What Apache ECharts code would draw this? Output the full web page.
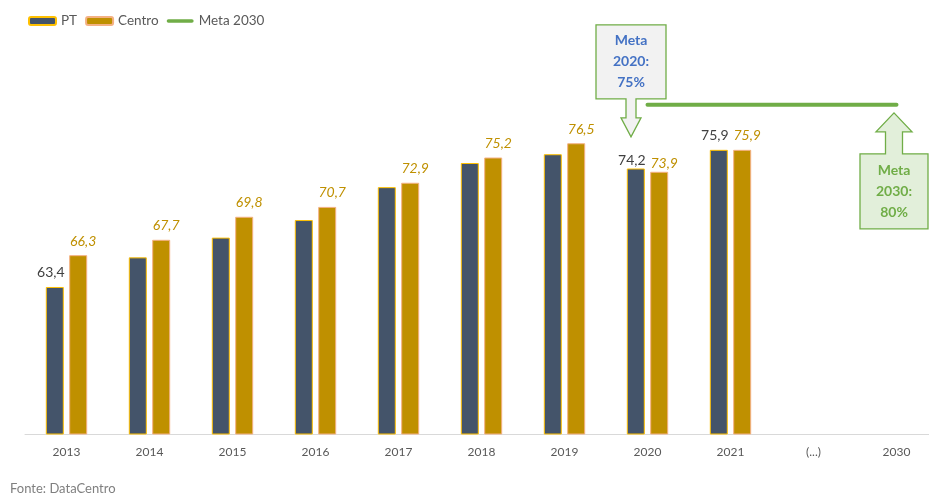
<!DOCTYPE html>
<html>
<head>
<meta charset="utf-8">
<script src="https://cdn.jsdelivr.net/npm/echarts@6/dist/echarts.min.js"></script>
<style>
html, body { margin: 0; padding: 0; background: #fff; }
#myChart { width: 929px; height: 497px; }
</style>
</head>
<body>
<div id="myChart"></div>
<script>
// valores
var years = ['2013', '2014', '2015', '2016', '2017', '2018', '2019', '2020', '2021', '(...)', '2030']
var ptValues = [63.4, 66.1, 67.9, 69.5, 72.5, 74.7, 75.5, 74.2, 75.9, null, null]
var centroValues = [66.3, 67.7, 69.8, 70.7, 72.9, 75.2, 76.5, 73.9, 75.9, null, null]
var meta2030Values = [null, null, null, null, null, null, null, 80, 80, 80, 80]
var ptLabelYears = ['2013', '2020', '2021']
var meta2020Text = 'Meta\n2020:\n75%'
var meta2030Text = 'Meta\n2030:\n80%'
var fonteText = 'Fonte: DataCentro'

var FONT = 'Lato, "Noto Sans", sans-serif'

function fmt (v) {
  return String(v).replace('.', ',')
}

// em 2020 os rótulos ficam colados à barra (por causa da seta)
function barData (values) {
  return values.map(function (v, i) {
    if (years[i] === '2020') {
      return { value: v, label: { distance: 1 } }
    }
    return v
  })
}

var myChart = echarts.init(document.getElementById('myChart'))

var option = {
  animation: false,
  textStyle: { fontFamily: FONT },
  legend: {
    left: 23,
    top: 9,
    itemWidth: 27,
    itemHeight: 8,
    itemGap: 8,
    textStyle: { fontSize: 13.5, color: '#595959', fontFamily: FONT },
    data: [
      'PT',
      'Centro',
      { name: 'Meta 2030', icon: 'path://M2,0 L28,0 A2,2 0 0 1 28,4 L2,4 A2,2 0 0 1 2,0 Z' }
    ]
  },
  grid: {
    left: 25,
    width: 913,
    top: 50,
    bottom: 63,
    outerBoundsMode: 'none'
  },
  xAxis: {
    type: 'category',
    data: years,
    axisTick: { show: false },
    axisLine: { lineStyle: { color: '#d9d9d9', width: 1 } },
    axisLabel: { color: '#595959', fontSize: 12, margin: 12, fontFamily: FONT }
  },
  yAxis: {
    type: 'value',
    min: 50,
    max: 85,
    show: false,
    splitLine: { show: false }
  },
  series: [
    {
      name: 'PT',
      type: 'bar',
      barWidth: 18,
      barGap: '30%',
      data: barData(ptValues),
      itemStyle: { color: '#44546a', borderColor: '#ffc000', borderWidth: 1 },
      label: {
        show: true,
        position: 'top',
        distance: 7,
        offset: [-4, 0],
        color: '#404040',
        fontSize: 14,
        fontFamily: FONT,
        formatter: function (p) {
          return ptLabelYears.indexOf(p.name) >= 0 ? fmt(p.value) : ''
        }
      }
    },
    {
      name: 'Centro',
      type: 'bar',
      barWidth: 18,
      data: barData(centroValues),
      itemStyle: { color: '#bf9000', borderColor: '#f4b183', borderWidth: 1 },
      label: {
        show: true,
        position: 'top',
        distance: 7,
        offset: [5, 0],
        color: '#bf9000',
        fontStyle: 'italic',
        fontSize: 14,
        fontFamily: FONT,
        formatter: function (p) {
          return p.value == null ? '' : fmt(p.value)
        }
      }
    },
    {
      name: 'Meta 2030',
      type: 'line',
      data: meta2030Values,
      symbol: 'none',
      color: '#70ad47',
      itemStyle: { color: '#70ad47' },
      lineStyle: { color: '#70ad47', width: 4, cap: 'round' }
    }
  ]
}

myChart.setOption(option, true)

// caixas "Meta" desenhadas a partir da posição da linha de meta
var p20 = myChart.convertToPixel({ seriesIndex: 2 }, ['2020', 80])
var p30 = myChart.convertToPixel({ seriesIndex: 2 }, ['2030', 80])

var c1 = p20[0] - 16.5
var y1 = p20[1]
var callout1 = [
  [c1 - 35, y1 - 80], [c1 + 35, y1 - 80], [c1 + 35, y1 - 6],
  [c1 + 5, y1 - 6], [c1 + 5, y1 + 13], [c1 + 10, y1 + 13],
  [c1, y1 + 32],
  [c1 - 10, y1 + 13], [c1 - 5, y1 + 13], [c1 - 5, y1 - 6],
  [c1 - 35, y1 - 6]
]

var c2 = p30[0] - 2.5
var y2 = p30[1]
var callout2 = [
  [c2, y2 + 8],
  [c2 + 18, y2 + 27], [c2 + 8.5, y2 + 27], [c2 + 8.5, y2 + 49],
  [c2 + 34, y2 + 49], [c2 + 34, y2 + 124], [c2 - 34, y2 + 124],
  [c2 - 34, y2 + 49], [c2 - 8.5, y2 + 49], [c2 - 8.5, y2 + 27],
  [c2 - 18, y2 + 27]
]

myChart.setOption({
  graphic: [
    {
      type: 'polygon',
      shape: { points: callout1 },
      style: { fill: '#f2f2f2', stroke: '#70ad47', lineWidth: 1.3 }
    },
    {
      type: 'text',
      x: c1,
      y: y1 - 43,
      style: {
        text: meta2020Text,
        fill: '#4472c4',
        font: 'bold 14px ' + FONT,
        lineHeight: 21,
        align: 'center',
        verticalAlign: 'middle'
      }
    },
    {
      type: 'polygon',
      shape: { points: callout2 },
      style: { fill: '#e2efda', stroke: '#70ad47', lineWidth: 1.3 }
    },
    {
      type: 'text',
      x: c2,
      y: y2 + 87,
      style: {
        text: meta2030Text,
        fill: '#70ad47',
        font: 'bold 14px ' + FONT,
        lineHeight: 21,
        align: 'center',
        verticalAlign: 'middle'
      }
    },
    {
      type: 'text',
      left: 10,
      top: 482,
      style: {
        text: fonteText,
        fill: '#7f7f7f',
        font: '13px ' + FONT
      }
    }
  ]
})
</script>
</body>
</html>
